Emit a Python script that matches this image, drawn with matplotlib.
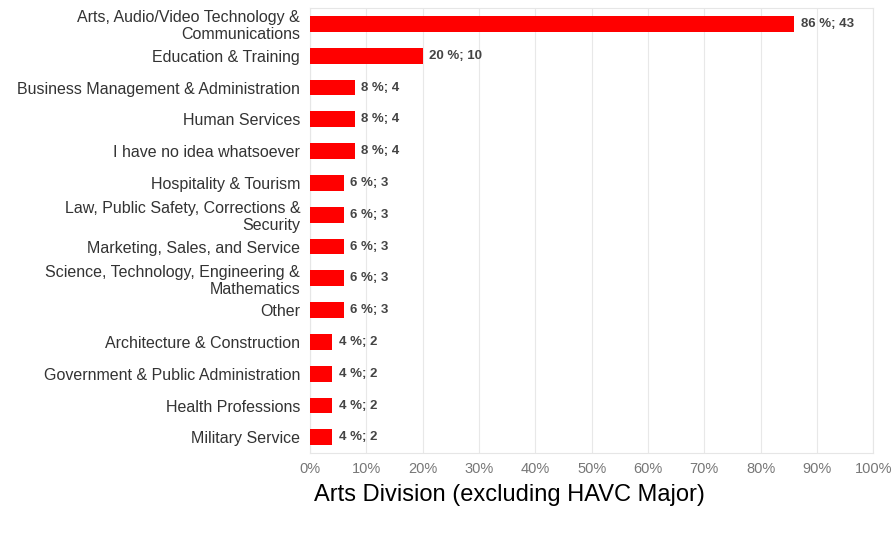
import matplotlib.pyplot as plt

categories = ['Arts, Audio/Video Technology &\nCommunications', 'Education & Training',
              'Business Management & Administration', 'Human Services',
              'I have no idea whatsoever', 'Hospitality & Tourism',
              'Law, Public Safety, Corrections &\nSecurity', 'Marketing, Sales, and Service',
              'Science, Technology, Engineering &\nMathematics', 'Other',
              'Architecture & Construction', 'Government & Public Administration',
              'Health Professions', 'Military Service']
percents = [86, 20, 8, 8, 8, 6, 6, 6, 6, 6, 4, 4, 4, 4]
counts = [43, 10, 4, 4, 4, 3, 3, 3, 3, 3, 2, 2, 2, 2]
ticks = list(range(0, 101, 10))

plt.rcParams['font.family'] = ['Liberation Sans', 'DejaVu Sans']

fig = plt.figure(figsize=(8.93, 5.37), dpi=100)
ax = fig.add_axes([0.347, 0.156, 0.631, 0.829])

y = list(range(len(categories)))
ax.barh(y, percents, height=0.5, color='#ff0000', zorder=3)
for yi, p, c in zip(y, percents, counts):
    ax.text(p + 1.1, yi, f'{p} %; {c}', va='center', ha='left', fontsize=9.5,
            fontweight='bold', color='#444444')

ax.set_xlim(0, 100)
ax.set_ylim(len(categories) - 0.5, -0.5)
ax.set_yticks(y)
ax.set_yticklabels(categories, fontsize=11.5, color='#333333', linespacing=1.15)
ax.set_xticks(ticks)
ax.set_xticklabels([f'{t}%' for t in ticks], fontsize=10.5, color='#777777')
ax.tick_params(axis='y', length=0, pad=7)
ax.tick_params(axis='x', length=0, pad=6)
ax.grid(axis='x', color='#e8e8e8', linewidth=0.8, zorder=0)
for s in ax.spines.values():
    s.set_color('#e6e6e6')

fig.text(0.571, 0.078, 'Arts Division (excluding HAVC Major)', ha='center', va='center',
         fontsize=17, color='black')

plt.savefig('out.png', dpi=100)
